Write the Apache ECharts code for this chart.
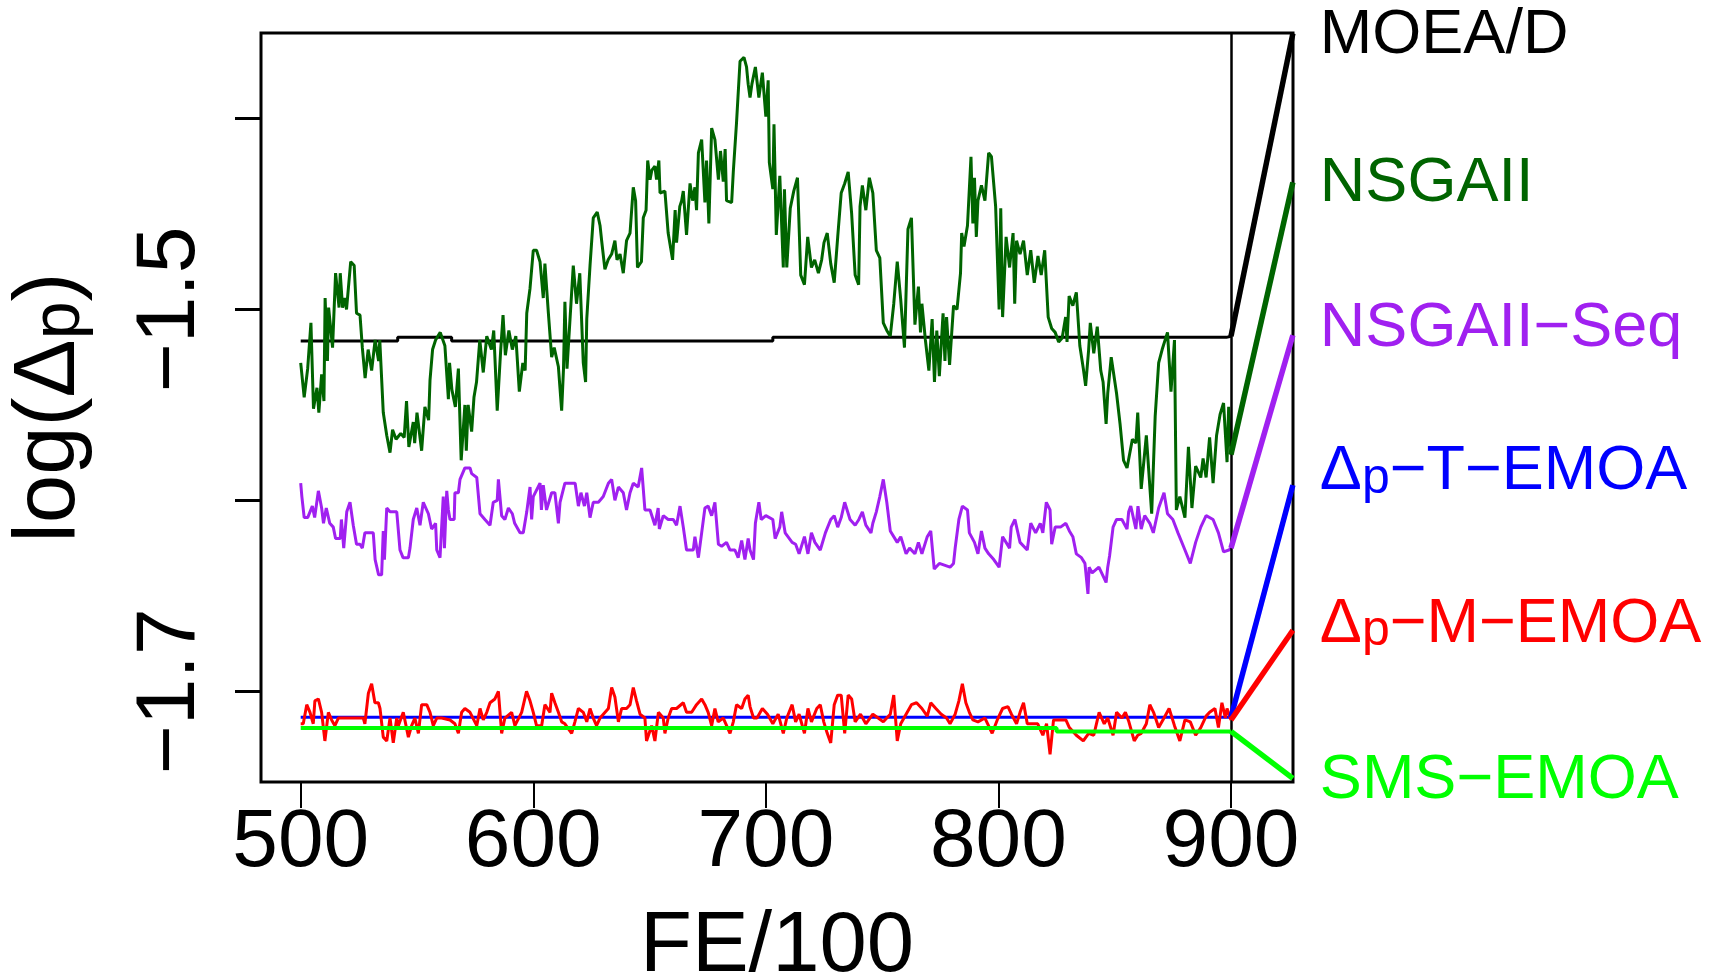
<!DOCTYPE html>
<html>
<head>
<meta charset="utf-8">
<script src="https://cdn.jsdelivr.net/npm/echarts@6/dist/echarts.min.js"></script>
<style>
  html, body { margin: 0; padding: 0; background: #fff; }
  #chart { width: 1719px; height: 980px; }
</style>
</head>
<body>
<div id="chart"></div>
<script>
// tick positions / labels
const feTicks = [500, 600, 700, 800, 900];
const logTicks = [-1.7, -1.6, -1.5, -1.4];
const logLabels = [-1.7, -1.5];

// algorithm names (legend at the right end of each line)
const algoNames = ['MOEA/D', 'NSGAII', 'NSGAII\u2212Seq', '\u0394p\u2212T\u2212EMOA', '\u0394p\u2212M\u2212EMOA', 'SMS\u2212EMOA'];
const algoColors = ['#000000', '#006400', '#A020F0', '#0000FF', '#FF0000', '#00FF00'];

// final value of each algorithm (end of the slanted segment after FE/100 = 900)
const endFe = 926.6;
const endValues = [-1.3555, -1.4334, -1.5135, -1.5920, -1.6680, -1.7456];

// [FE/100, log(Δp)]
const moead = [[500, -1.5165], [541.7, -1.5165], [541.7, -1.5146], [564.9, -1.5146], [564.9, -1.5165],
  [703, -1.5165], [703, -1.5146], [898, -1.5146], [900, -1.5140]];

const nsgaii = [
  [500,-1.528],[501.5,-1.546],[503,-1.531],[504.4,-1.507],[505.5,-1.552],[507,-1.541],[507.8,-1.554],[509,-1.534],
  [510,-1.548],[510.5,-1.494],[511.5,-1.527],[512,-1.499],[513.7,-1.520],[515,-1.481],[516.5,-1.499],[517,-1.481],
  [518,-1.499],[519,-1.494],[519.7,-1.500],[521.5,-1.475],[523,-1.477],[524,-1.502],[525.5,-1.503],[526.5,-1.520],
  [527.7,-1.536],[529,-1.521],[530.5,-1.532],[532,-1.516],[533.5,-1.527],[534,-1.516],[535.5,-1.554],[537,-1.566],
  [538.4,-1.575],[539.5,-1.563],[541,-1.568],[543,-1.565],[544.5,-1.567],[545.5,-1.548],[546.5,-1.572],[548.4,-1.559],
  [549,-1.570],[550,-1.554],[552,-1.574],[553.4,-1.551],[555,-1.558],[555.6,-1.537],[556.7,-1.521],[558,-1.516],
  [560,-1.512],[562,-1.519],[563.5,-1.547],[564,-1.528],[565,-1.542],[566.5,-1.551],[567.8,-1.531],[569,-1.579],
  [570.6,-1.550],[571.2,-1.574],[572,-1.550],[573.5,-1.564],[574.5,-1.546],[575.6,-1.538],[577,-1.516],[578.5,-1.533],
  [580,-1.514],[582,-1.521],[583,-1.511],[584.5,-1.553],[586,-1.521],[587,-1.503],[588,-1.524],[589.5,-1.511],
  [591,-1.521],[592.5,-1.514],[594,-1.543],[595.5,-1.528],[596.5,-1.532],[597.2,-1.502],[598.6,-1.489],[600,-1.469],
  [601.4,-1.469],[602.9,-1.475],[604.3,-1.494],[605,-1.476],[606.5,-1.502],[607.9,-1.525],[609,-1.520],[610.8,-1.530],
  [612.2,-1.553],[613,-1.531],[613.6,-1.496],[614.5,-1.531],[617.2,-1.477],[618.6,-1.497],[620,-1.481],[621.5,-1.528],
  [622.5,-1.538],[623,-1.505],[624.4,-1.477],[625.8,-1.452],[627.5,-1.449],[628.7,-1.456],[629.4,-1.464],[630.8,-1.479],
  [632.2,-1.474],[633.7,-1.471],[635.1,-1.464],[636,-1.474],[637.3,-1.471],[638.7,-1.481],[640.1,-1.464],[641.6,-1.460],
  [643,-1.436],[644,-1.443],[644.8,-1.478],[646.5,-1.475],[647.3,-1.452],[648.5,-1.448],[649.2,-1.422],[650.2,-1.432],
  [651,-1.427],[652.3,-1.425],[653,-1.432],[654,-1.422],[654.5,-1.439],[656.6,-1.438],[658,-1.460],[659.9,-1.474],
  [661,-1.448],[661.6,-1.465],[663,-1.446],[663.8,-1.443],[664.5,-1.438],[665.9,-1.461],[667.4,-1.434],[668.5,-1.443],
  [669.5,-1.436],[670.2,-1.448],[671,-1.418],[672.4,-1.411],[673.8,-1.444],[674.5,-1.422],[675.5,-1.455],[676.7,-1.405],
  [678.1,-1.411],[679.6,-1.432],[680.5,-1.417],[681.7,-1.433],[682.5,-1.416],[683.1,-1.443],[685.3,-1.444],[686,-1.428],
  [687.4,-1.402],[688.9,-1.370],[690.6,-1.368],[691.7,-1.373],[692.4,-1.382],[693.2,-1.389],[694,-1.382],[695.5,-1.373],
  [697,-1.389],[698.5,-1.376],[700,-1.399],[701,-1.380],[701.5,-1.423],[703,-1.437],[703.5,-1.403],[704.5,-1.461],
  [706,-1.430],[707.5,-1.478],[708,-1.437],[709,-1.478],[710.5,-1.447],[712,-1.438],[713.6,-1.431],[715,-1.482],
  [716.6,-1.487],[718,-1.462],[719.6,-1.478],[721,-1.474],[722.6,-1.481],[724,-1.474],[725,-1.465],[726.4,-1.460],
  [727.9,-1.476],[729.4,-1.486],[730.9,-1.462],[732.4,-1.439],[733.9,-1.434],[735.4,-1.428],[736.9,-1.450],[738.4,-1.482],
  [739.9,-1.487],[740.5,-1.446],[741.5,-1.435],[743,-1.448],[744.5,-1.431],[746,-1.439],[747.5,-1.469],[749,-1.473],
  [750.5,-1.507],[752,-1.511],[753.5,-1.514],[755,-1.497],[756.5,-1.475],[758,-1.495],[759.6,-1.520],[761.1,-1.458],
  [762.6,-1.452],[764.1,-1.508],[765.6,-1.488],[766.5,-1.512],[767.1,-1.497],[768.6,-1.516],[770.1,-1.532],[771.5,-1.505],
  [772.5,-1.538],[773.5,-1.511],[774.6,-1.535],[776.2,-1.502],[777,-1.527],[777.7,-1.504],[779,-1.529],[780.7,-1.498],
  [782.2,-1.500],[783.7,-1.481],[784.2,-1.460],[785.2,-1.467],[786.7,-1.456],[788.2,-1.420],[789,-1.455],[789.7,-1.431],
  [790.5,-1.462],[791.2,-1.443],[792.7,-1.435],[794.2,-1.443],[795.8,-1.418],[797,-1.420],[798.8,-1.446],[800.3,-1.500],
  [801,-1.447],[801.8,-1.504],[803.3,-1.462],[804.8,-1.478],[806.3,-1.460],[807,-1.497],[807.8,-1.464],[809.3,-1.471],
  [810.8,-1.464],[812.4,-1.482],[813.9,-1.469],[815.4,-1.486],[817,-1.472],[818.4,-1.482],[819.9,-1.469],[821.4,-1.504],
  [822.9,-1.510],[824.4,-1.512],[825.9,-1.517],[827.4,-1.515],[828.9,-1.504],[829.5,-1.517],[830.4,-1.493],[832,-1.498],
  [833.5,-1.491],[835,-1.519],[836.5,-1.531],[837.5,-1.540],[838.8,-1.521],[839.5,-1.507],[841,-1.523],[842.5,-1.509],
  [844,-1.532],[845,-1.538],[846.3,-1.560],[847,-1.544],[848.5,-1.525],[850.8,-1.544],[852.3,-1.560],[853.8,-1.579],
  [855.3,-1.583],[857.6,-1.568],[859.1,-1.570],[859.9,-1.554],[861.4,-1.594],[863.6,-1.566],[865.9,-1.607],[867.4,-1.556],
  [868.9,-1.528],[870.4,-1.521],[872.7,-1.512],[874.2,-1.543],[875.7,-1.516],[876.5,-1.605],[878,-1.598],[880.2,-1.609],
  [881.7,-1.572],[883.2,-1.604],[884.8,-1.582],[887,-1.588],[888,-1.578],[889.3,-1.588],[890.8,-1.567],[892.3,-1.591],
  [893.8,-1.566],[895.3,-1.555],[896.8,-1.549],[898.3,-1.580],[899,-1.551],[900,-1.576]
];

const nsgaiiSeq = [
  [500,-1.591],[500.5,-1.598],[501.5,-1.609],[503,-1.609],[505,-1.603],[506,-1.609],[507.6,-1.595],[509,-1.604],
  [509.8,-1.612],[511,-1.604],[512.5,-1.612],[514,-1.614],[515,-1.620],[517,-1.620],[517.5,-1.610],[518.5,-1.625],
  [519.8,-1.606],[521.2,-1.601],[522.6,-1.613],[524,-1.623],[525.5,-1.623],[526.5,-1.625],[527.6,-1.617],[529.5,-1.617],
  [531.2,-1.617],[532,-1.631],[533.5,-1.639],[534.8,-1.639],[535.5,-1.616],[536,-1.631],[537,-1.604],[538.4,-1.606],
  [540,-1.606],[541.3,-1.606],[542.7,-1.626],[544,-1.630],[546.3,-1.630],[547,-1.625],[548.4,-1.610],[549.9,-1.604],
  [551.3,-1.613],[552.7,-1.601],[554.9,-1.607],[556.3,-1.615],[558,-1.612],[558.5,-1.626],[559.9,-1.630],[561.3,-1.598],
  [561.8,-1.625],[562.8,-1.595],[563.5,-1.605],[564.2,-1.610],[566,-1.610],[566.3,-1.596],[567.8,-1.596],[568.5,-1.589],
  [570.6,-1.583],[572.8,-1.583],[573.5,-1.586],[575.7,-1.588],[577.1,-1.607],[579.2,-1.610],[581.4,-1.613],[582.8,-1.601],
  [584.5,-1.600],[585,-1.589],[586.4,-1.608],[587.8,-1.610],[589.3,-1.604],[591,-1.607],[592,-1.612],[594.3,-1.617],
  [595.7,-1.617],[597.2,-1.606],[598.6,-1.593],[599.3,-1.610],[600,-1.598],[602.9,-1.591],[603.5,-1.605],[604.3,-1.592],
  [605.7,-1.605],[607.9,-1.596],[609.3,-1.596],[610.8,-1.612],[611.5,-1.601],[613.6,-1.591],[618,-1.591],[619.4,-1.603],
  [620.5,-1.596],[622,-1.603],[623,-1.596],[624.4,-1.609],[625.8,-1.601],[628,-1.601],[630.1,-1.598],[632.3,-1.591],
  [633.7,-1.589],[635.1,-1.600],[636.6,-1.593],[638.7,-1.596],[640.1,-1.605],[641.6,-1.596],[643,-1.591],[645.1,-1.593],
  [646.6,-1.583],[648,-1.605],[650.2,-1.605],[652.3,-1.613],[653.7,-1.604],[654.2,-1.615],[655.9,-1.608],[658,-1.610],
  [660.2,-1.610],[661.6,-1.613],[663.1,-1.603],[664.5,-1.614],[665.9,-1.626],[668.8,-1.626],[669.5,-1.619],[671,-1.630],
  [672.4,-1.617],[673.8,-1.604],[675.2,-1.603],[676.7,-1.608],[678.1,-1.601],[679.6,-1.623],[681,-1.624],[683.1,-1.622],
  [684.6,-1.626],[686.7,-1.626],[688.1,-1.630],[689.6,-1.621],[691,-1.631],[692.4,-1.620],[693.2,-1.626],[694.7,-1.631],
  [695.5,-1.612],[697,-1.601],[698,-1.610],[700,-1.608],[703,-1.610],[704,-1.620],[706,-1.614],[706.8,-1.606],
  [708.3,-1.617],[711.3,-1.622],[712.8,-1.623],[714.3,-1.628],[716.6,-1.619],[718.1,-1.628],[719.6,-1.617],[721.1,-1.622],
  [723.4,-1.626],[725.6,-1.617],[727.9,-1.610],[729.4,-1.608],[730.9,-1.614],[732.4,-1.609],[733.9,-1.601],[736.2,-1.610],
  [738.4,-1.613],[740,-1.610],[741.5,-1.606],[743,-1.613],[745.2,-1.617],[746,-1.612],[747.5,-1.606],[749,-1.598],
  [750.5,-1.589],[752,-1.601],[753.5,-1.616],[756.5,-1.622],[758,-1.619],[760.3,-1.628],[761.8,-1.625],[764.1,-1.628],
  [765.6,-1.622],[767.1,-1.628],[769.4,-1.619],[770.9,-1.616],[772.4,-1.636],[774.6,-1.633],[779.2,-1.635],[780.7,-1.633],
  [781.4,-1.625],[783,-1.610],[784.5,-1.603],[786.7,-1.605],[787.5,-1.617],[789.7,-1.622],[791.2,-1.628],[792.7,-1.616],
  [794.2,-1.625],[795.8,-1.628],[798,-1.631],[800.3,-1.635],[801.8,-1.619],[804.8,-1.625],[805.5,-1.614],[807.1,-1.610],
  [809.3,-1.622],[812.4,-1.626],[813.9,-1.612],[816,-1.617],[818,-1.612],[819.1,-1.617],[820.6,-1.601],[822.2,-1.605],
  [822.9,-1.623],[824.4,-1.614],[826.7,-1.614],[829,-1.612],[830.5,-1.616],[832,-1.619],[833.5,-1.628],[835.7,-1.630],
  [837.2,-1.633],[838.5,-1.649],[839,-1.635],[840.3,-1.638],[843.2,-1.635],[846.3,-1.643],[847,-1.635],[847.8,-1.629],
  [849.3,-1.614],[850.8,-1.610],[853.1,-1.610],[855.3,-1.615],[856,-1.606],[856.9,-1.603],[859.1,-1.615],[860,-1.603],
  [861.4,-1.615],[862.9,-1.608],[865.1,-1.612],[866.6,-1.617],[868.9,-1.604],[871.2,-1.596],[872.7,-1.607],[875,-1.610],
  [877.2,-1.617],[880.2,-1.626],[882.5,-1.633],[884.8,-1.622],[887,-1.614],[889.3,-1.608],[892.3,-1.610],[894.6,-1.617],
  [896.8,-1.627],[899.1,-1.626],[900,-1.625]
];

const tEmoa = [[500, -1.7136], [900, -1.7136]];

const mEmoa = [
  [500,-1.717],[501.1,-1.717],[502.6,-1.707],[504,-1.711],[505.4,-1.717],[506.1,-1.705],[507.6,-1.704],[509,-1.711],
  [510.4,-1.726],[511.9,-1.711],[513.3,-1.715],[514.7,-1.718],[516.2,-1.714],[519,-1.714],[526.9,-1.714],[527.6,-1.717],
  [529.1,-1.701],[530.5,-1.696],[531.9,-1.706],[533.4,-1.706],[534.1,-1.709],[535.5,-1.724],[537,-1.726],[538.4,-1.714],
  [539.8,-1.727],[541.3,-1.714],[542,-1.718],[544.1,-1.711],[546.3,-1.724],[547.7,-1.718],[549.1,-1.714],[550.6,-1.722],
  [552,-1.707],[554.2,-1.707],[555.6,-1.711],[557,-1.718],[558.5,-1.714],[560.6,-1.714],[564.2,-1.715],[566.3,-1.717],
  [567.8,-1.722],[569.2,-1.711],[570.6,-1.709],[572.8,-1.711],[575.7,-1.718],[577.1,-1.709],[578.5,-1.715],[580,-1.711],
  [581.4,-1.706],[583.5,-1.704],[585,-1.700],[586.4,-1.722],[587.8,-1.714],[590.7,-1.711],[592.1,-1.718],[595,-1.711],
  [597.1,-1.700],[598.6,-1.705],[600,-1.711],[601.4,-1.718],[603.6,-1.718],[605,-1.707],[607.2,-1.711],[607.9,-1.701],
  [609.3,-1.706],[610.8,-1.711],[612.2,-1.716],[613.6,-1.717],[616.5,-1.722],[617.9,-1.716],[619.4,-1.709],[621.5,-1.711],
  [623,-1.716],[624.4,-1.709],[625.8,-1.714],[627.2,-1.718],[628.7,-1.714],[632.3,-1.709],[633.7,-1.698],[635.1,-1.703],
  [636.6,-1.716],[638,-1.709],[640.1,-1.709],[641.6,-1.707],[643,-1.698],[644.4,-1.705],[645.9,-1.712],[648,-1.714],
  [648.7,-1.726],[650.9,-1.718],[652.3,-1.726],[653.8,-1.711],[655.9,-1.714],[656.6,-1.722],[658,-1.714],[659.5,-1.709],
  [661.6,-1.709],[664.5,-1.706],[665.9,-1.711],[668.1,-1.711],[670.2,-1.707],[672.4,-1.704],[673.8,-1.707],[675.2,-1.711],
  [676.7,-1.718],[678.1,-1.709],[679.5,-1.716],[681.7,-1.714],[684.6,-1.722],[686,-1.716],[687.4,-1.707],[689.6,-1.709],
  [691,-1.704],[692.4,-1.702],[693.2,-1.708],[694.7,-1.714],[696.2,-1.714],[698.5,-1.709],[700.7,-1.712],[703,-1.717],
  [705.3,-1.712],[707.5,-1.722],[709,-1.714],[711.3,-1.707],[712.8,-1.716],[714.3,-1.712],[716.6,-1.722],[718.1,-1.709],
  [719.6,-1.716],[721.9,-1.709],[723.4,-1.707],[724.9,-1.716],[726.4,-1.722],[727.9,-1.727],[729.4,-1.707],[730.9,-1.702],
  [732.4,-1.702],[733.9,-1.722],[735.4,-1.702],[736.9,-1.704],[738.4,-1.716],[740.7,-1.712],[743,-1.717],[746,-1.712],
  [748.3,-1.714],[750.5,-1.716],[753.5,-1.712],[755,-1.702],[756.5,-1.726],[758,-1.717],[760.3,-1.712],[762.6,-1.707],
  [764.8,-1.706],[767.1,-1.709],[769.4,-1.713],[770.9,-1.706],[773.1,-1.709],[775.4,-1.712],[777.7,-1.714],[779.2,-1.717],
  [781.4,-1.712],[783,-1.705],[784.5,-1.696],[786,-1.706],[787.5,-1.711],[789,-1.715],[791.2,-1.716],[794.2,-1.714],
  [797.3,-1.722],[799.5,-1.715],[801.8,-1.709],[804.1,-1.708],[805.6,-1.712],[807.8,-1.717],[809.3,-1.711],[810.8,-1.706],
  [812.4,-1.717],[814.6,-1.717],[816.9,-1.717],[819.1,-1.723],[820.7,-1.717],[822.2,-1.733],[823.7,-1.715],[826.7,-1.715],
  [829,-1.715],[830.5,-1.719],[833.5,-1.723],[836.5,-1.726],[838.8,-1.722],[841,-1.723],[843.3,-1.711],[845.5,-1.717],
  [847,-1.714],[849.3,-1.723],[850.8,-1.711],[853.1,-1.714],[854.6,-1.711],[856.1,-1.716],[858.4,-1.726],[859.9,-1.723],
  [861.4,-1.722],[863.6,-1.717],[865.1,-1.707],[866.7,-1.711],[868.9,-1.719],[871.2,-1.714],[873.4,-1.709],[875.7,-1.718],
  [878,-1.726],[880.2,-1.715],[882.5,-1.716],[884.8,-1.723],[887,-1.719],[889.3,-1.713],[890.8,-1.711],[893.1,-1.709],
  [894.6,-1.719],[896.1,-1.706],[897.6,-1.714],[898.3,-1.709],[900,-1.715]
];

const smsEmoa = [[500, -1.7192], [825, -1.7192], [825, -1.7210], [900, -1.7210]];

const lines = [moead, nsgaii, nsgaiiSeq, tEmoa, mEmoa, smsEmoa];

// styling
const FONT = '"Liberation Sans", Arial, Helvetica, sans-serif';
const lineWidths = [3, 3, 3, 3, 3, 4];
const drawOrder = [1, 3, 2, 4, 5, 6];
const labelShift = [2, 1, -7, -13, -6, 2];

function richLabel(name) {
  // Δp-... names get a subscript p
  if (name.indexOf('\u0394p') === 0) {
    return '{a|\u0394}{s|p}{a|' + name.slice(2) + '}';
  }
  return '{a|' + name + '}';
}

const chart = echarts.init(document.getElementById('chart'), null, { renderer: 'canvas' });

const series = [];
lines.forEach(function (pts, i) {
  series.push({
    name: algoNames[i],
    type: 'line',
    data: pts,
    symbol: 'none',
    showSymbol: false,
    silent: true,
    animation: false,
    z: drawOrder[i],
    lineStyle: { color: algoColors[i], width: lineWidths[i] },
    itemStyle: { color: algoColors[i] }
  });
});

// slanted segments from 900 to the right border, with the names at their ends
lines.forEach(function (pts, i) {
  const last = pts[pts.length - 1];
  series.push({
    type: 'line',
    data: [[900, last[1]], [endFe, endValues[i]]],
    symbol: 'none',
    showSymbol: false,
    silent: true,
    animation: false,
    z: 8,
    lineStyle: { color: algoColors[i], width: 5.5, cap: 'butt' },
    itemStyle: { color: algoColors[i] },
    endLabel: {
      show: true,
      distance: 27,
      offset: [0, labelShift[i]],
      formatter: function () { return richLabel(algoNames[i]); },
      rich: {
        a: { fontFamily: FONT, fontSize: 63, color: algoColors[i], lineHeight: 64 },
        s: { fontFamily: FONT, fontSize: 50, color: algoColors[i], lineHeight: 26, verticalAlign: 'bottom' }
      }
    }
  });
});

// vertical line at FE/100 = 900
series.push({
  type: 'line',
  data: [],
  silent: true,
  animation: false,
  markLine: {
    silent: true,
    animation: false,
    symbol: ['none', 'none'],
    label: { show: false },
    lineStyle: { color: '#000', width: 2.5, type: 'solid' },
    data: [{ xAxis: 900 }]
  }
});

chart.setOption({
  backgroundColor: '#ffffff',
  animation: false,
  grid: {
    left: 261, top: 33, width: 1032, height: 749,
    show: true, borderColor: '#000', borderWidth: 3,
    backgroundColor: 'transparent',
    containLabel: false, outerBoundsMode: 'none'
  },
  xAxis: {
    type: 'value',
    min: 482.93,
    max: 926.66,
    axisLine: { show: false, onZero: false },
    splitLine: { show: false },
    axisTick: { show: true, inside: false, length: 26, customValues: feTicks, lineStyle: { color: '#000', width: 2 } },
    axisLabel: { show: true, customValues: feTicks, margin: 20, color: '#000', fontSize: 82, fontFamily: FONT },
    name: 'FE/100',
    nameLocation: 'middle',
    nameGap: 123,
    nameMoveOverlap: false,
    nameTextStyle: { color: '#000', fontSize: 85, fontFamily: FONT }
  },
  yAxis: {
    type: 'value',
    min: -1.7475,
    max: -1.3552,
    axisLine: { show: false, onZero: false },
    splitLine: { show: false },
    axisTick: { show: true, inside: false, length: 26, customValues: logTicks, lineStyle: { color: '#000', width: 3 } },
    axisLabel: {
      show: true, customValues: logLabels, rotate: 90, margin: 48,
      color: '#000', fontSize: 84, fontFamily: FONT,
      formatter: function (v) { return String(v).replace('-', '\u2212'); }
    },
    name: '{a|log(\u0394}{s|p}{a|)}',
    nameLocation: 'middle',
    nameRotate: 90,
    nameGap: 167,
    nameMoveOverlap: false,
    nameTextStyle: {
      rich: {
        a: { fontFamily: FONT, fontSize: 87, color: '#000', lineHeight: 88 },
        s: { fontFamily: FONT, fontSize: 68, color: '#000', lineHeight: 44, verticalAlign: 'bottom' }
      }
    }
  },
  series: series
});
</script>
</body>
</html>
